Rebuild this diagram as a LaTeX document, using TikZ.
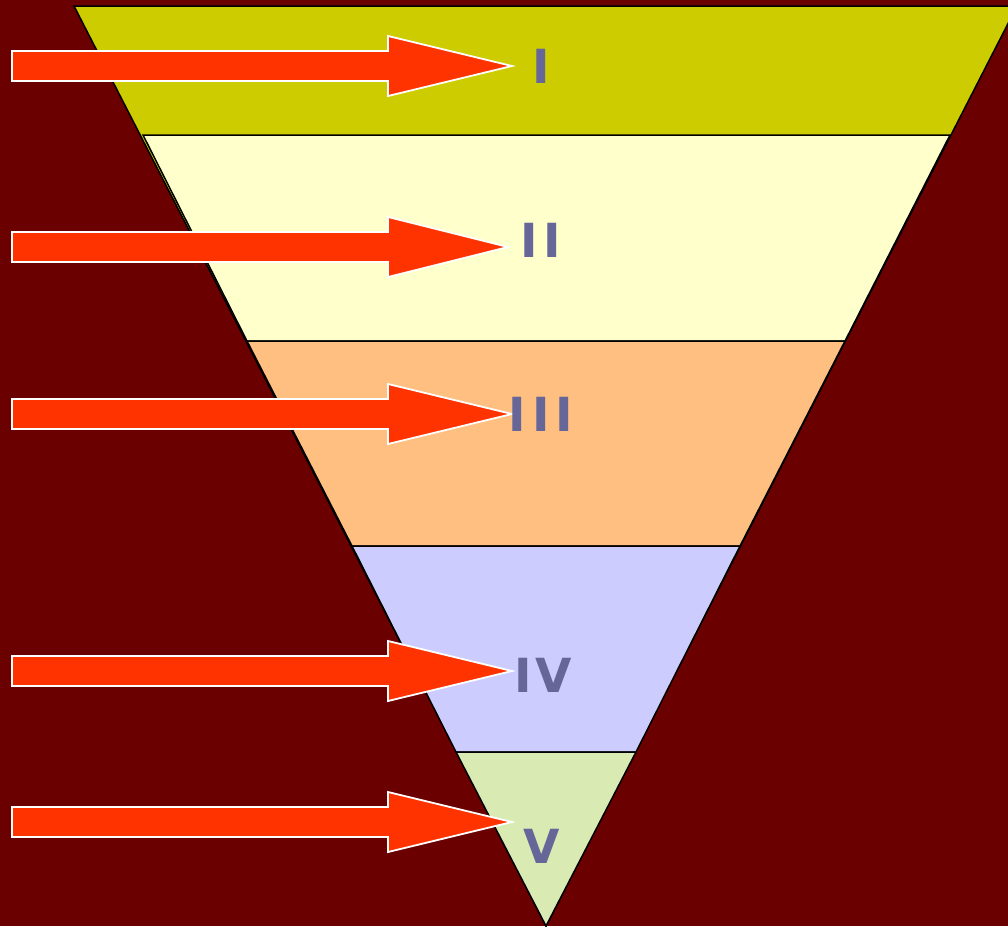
\documentclass[tikz,border=0pt]{standalone}
\usepackage{fontspec}
\setmainfont{DejaVu Sans}
\definecolor{bg}{HTML}{6B0000}
\definecolor{cI}{HTML}{CCCC00}
\definecolor{cII}{HTML}{FFFFCC}
\definecolor{cIII}{HTML}{FFBF80}
\definecolor{cIV}{HTML}{CCCCFF}
\definecolor{cV}{HTML}{D9EAB3}
\definecolor{arr}{HTML}{FF3300}
\definecolor{lab}{HTML}{666699}
\tikzset{
  band/.style={draw=black, line width=1.5pt, line join=miter},
  bigarrow/.style={fill=arr, draw=white, line width=1.8pt, line join=miter},
  numeral/.style={text=lab, font=\fontsize{47}{47}\selectfont\bfseries, inner sep=0pt}
}
\begin{document}
\begin{tikzpicture}[x=1pt,y=-1pt]
\useasboundingbox (0,0) rectangle (1008,926);
\fill[bg] (0,0) rectangle (1008,926);
\begin{scope}
\clip (0,0) rectangle (1008,926);
\draw[band, fill=cI] (74,6) -- (1017,6) -- (546,926) -- cycle;
\draw[band, fill=cII] (143,135) -- (950,135) -- (845,341) -- (247,341) -- cycle;
\draw[band, fill=cIII] (247,341) -- (845,341) -- (740,546) -- (352,546) -- cycle;
\draw[band, fill=cIV] (352,546) -- (740,546) -- (636,752) -- (456,752) -- cycle;
\draw[band, fill=cV] (456,752) -- (636,752) -- (546,926) -- cycle;
\end{scope}
% arrows
\foreach \yc/\tip in {66/512, 247/508, 414/512, 671/512, 822/512}{
  \draw[bigarrow] (12,\yc-15) -- (388,\yc-15) -- (388,\yc-30) -- (\tip,\yc)
     -- (388,\yc+30) -- (388,\yc+15) -- (12,\yc+15) -- cycle;
}
% labels
\node[numeral] (n1) at (541,66) {I};
\node[numeral] (n2) at (541,240) {I\kern6pt I};
\node[numeral] (n3) at (541,414) {I\kern6pt I\kern6pt I};
\node[numeral] (n4) at (543,675) {I\kern4pt V};
\node[numeral] (n5) at (542,846) {V};
\end{tikzpicture}
\end{document}
